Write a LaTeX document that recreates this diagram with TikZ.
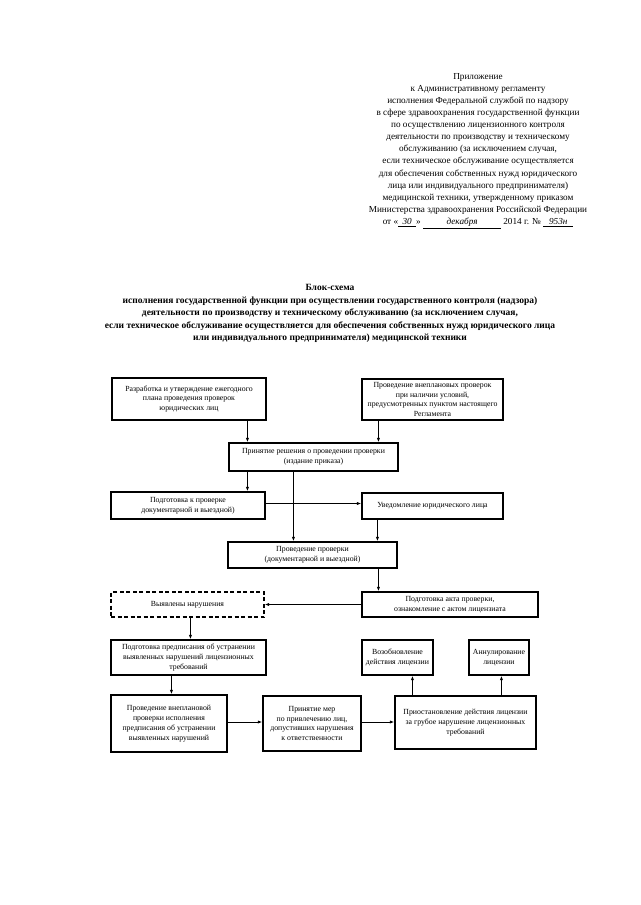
\documentclass[tikz,border=0pt]{standalone}
\usepackage{fontspec}
\setmainfont{Liberation Serif}
\usetikzlibrary{arrows.meta,calc}
\newcommand{\bxf}{\fontsize{7.8}{9.8}\selectfont}
\newcommand{\hdf}{\fontsize{9.2}{12.1}\selectfont}
\newcommand{\ttf}{\fontsize{9.5}{12.6}\selectfont\bfseries}
\newcommand{\hw}[2]{\underline{\makebox[#1]{\itshape #2}}}
\begin{document}
\begin{tikzpicture}[x=1pt,y=-1pt,
  box/.style={draw, line width=1.1pt, align=center, inner sep=1pt, font=\bxf},
  dbox/.style={box, dash pattern=on 4pt off 2.5pt},
  arr/.style={line width=0.9pt, -{Latex[length=4.5pt,width=3.2pt]}}]
\useasboundingbox (0,0) rectangle (640,905);
\fill[white] (0,0) rectangle (640,905);
% header
\node[anchor=north, align=center, font=\hdf, inner sep=0] (hdr) at (478,73) {Приложение\\
к Административному регламенту\\
исполнения Федеральной службой по надзору\\
в сфере здравоохранения государственной функции\\
по осуществлению лицензионного контроля\\
деятельности по производству и техническому\\
обслуживанию (за исключением случая,\\
если техническое обслуживание осуществляется\\
для обеспечения собственных нужд юридического\\
лица или индивидуального предпринимателя)\\
медицинской техники, утвержденному приказом\\
Министерства здравоохранения Российской Федерации\\
от «\hw{18pt}{30}» \hw{78pt}{декабря} 2014 г. № \hw{30pt}{953н}};
% title
\node[anchor=north, align=center, font=\ttf, inner sep=0] (ttl) at (330,284) {Блок-схема\\
исполнения государственной функции при осуществлении государственного контроля (надзора)\\
деятельности по производству и техническому обслуживанию (за исключением случая,\\
если техническое обслуживание осуществляется для обеспечения собственных нужд юридического лица\\
или индивидуального предпринимателя) медицинской техники};
% boxes
\node[box, minimum width=154pt, minimum height=42pt] (b1) at (189,399) {Разработка и утверждение ежегодного\\плана проведения проверок\\юридических лиц};
\node[box, minimum width=141pt, minimum height=41pt] (b2) at (432.5,399.5) {Проведение внеплановых проверок\\при наличии условий,\\предусмотренных пунктом настоящего\\Регламента};
\node[box, minimum width=169pt, minimum height=28pt] (b3) at (313.5,457) {Принятие решения о проведении проверки\\(издание приказа)};
\node[box, minimum width=154pt, minimum height=27pt] (b4) at (188,505.5) {Подготовка к проверке\\документарной и выездной)};
\node[box, minimum width=141pt, minimum height=26pt] (b5) at (432.5,506) {Уведомление юридического лица};
\node[box, minimum width=169pt, minimum height=26pt] (b6) at (312.5,555) {Проведение проверки\\(документарной и выездной)};
\node[dbox, minimum width=153pt, minimum height=25pt] (b7) at (187.5,604.5) {Выявлены нарушения};
\node[box, minimum width=176pt, minimum height=25pt] (b8) at (450,604.5) {Подготовка акта проверки,\\ознакомление с актом лицензиата};
\node[box, minimum width=155pt, minimum height=35pt] (b9) at (188.5,657.5) {Подготовка предписания об устранении\\выявленных нарушений лицензионных\\требований};
\node[box, minimum width=116pt, minimum height=57pt] (b10) at (169,723.5) {Проведение внеплановой\\проверки исполнения\\предписания об устранении\\выявленных нарушений};
\node[box, minimum width=98pt, minimum height=55pt] (b11) at (312,723.5) {Принятие мер\\по привлечению лиц,\\допустивших нарушения\\к ответственности};
\node[box, minimum width=141pt, minimum height=53pt] (b12) at (465.5,722.5) {Приостановление действия лицензии\\за грубое нарушение лицензионных\\требований};
\node[box, minimum width=71pt, minimum height=35pt] (b13) at (397.5,657.5) {Возобновление\\действия лицензии};
\node[box, minimum width=60pt, minimum height=35pt] (b14) at (499,657.5) {Аннулирование\\лицензии};
% connectors
\draw[arr] ([xshift=19pt]b3.north west |- b1.south) -- ([xshift=19pt]b3.north west);
\draw[arr] ([xshift=17pt]b2.south west) -- ([xshift=17pt]b2.south west |- b3.north);
\draw[arr] ([xshift=19pt]b3.south west) -- ([xshift=19pt]b3.south west |- b4.north);
\draw[arr] ([xshift=65pt]b3.south west) -- ([xshift=65pt]b3.south west |- b6.north);
\draw[arr] ([yshift=2pt]b4.east) -- ([yshift=2pt]b4.east -| b5.west);
\draw[arr] ([xshift=16pt]b5.south west) -- ([xshift=16pt]b5.south west |- b6.north);
\draw[arr] ([xshift=17pt]b8.north west |- b6.south) -- ([xshift=17pt]b8.north west);
\draw[arr] (b8.west) -- (b7.east);
\draw[arr] ([xshift=80pt]b7.south west) -- ([xshift=80pt]b7.south west |- b9.north);
\draw[arr] ([xshift=61pt]b9.south west) -- ([xshift=61pt]b9.south west |- b10.north);
\draw[arr] ([yshift=1.5pt]b10.east) -- ([yshift=1.5pt]b10.east -| b11.west);
\draw[arr] ([yshift=1.5pt]b11.east) -- ([yshift=1.5pt]b11.east -| b12.west);
\draw[arr] ([xshift=51pt]b13.south west |- b12.north) -- ([xshift=51pt]b13.south west);
\draw[arr] ([xshift=33pt]b14.south west |- b12.north) -- ([xshift=33pt]b14.south west);
\end{tikzpicture}
\end{document}
